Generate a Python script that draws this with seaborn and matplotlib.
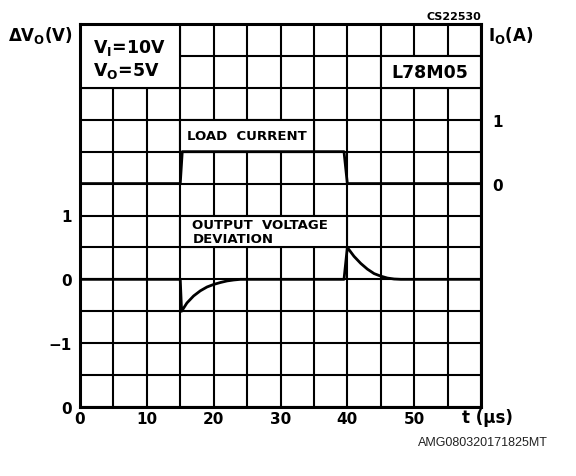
import numpy as np
import matplotlib
matplotlib.use("Agg")
import matplotlib.pyplot as plt
from matplotlib.patches import Rectangle
import seaborn as sns

# load current step (A) vs time (us)
t_load = [0, 15, 15.3, 39.5, 40, 60]
i_load = [0, 0, 0.5, 0.5, 0, 0]

# output voltage deviation (V) vs time (us)
t_dev = [0, 15, 15.2, 16, 17, 18, 19, 20, 21, 22, 23, 24,
         39.5, 40, 41, 42, 43, 44, 45, 46, 47, 48, 60]
v_dev = [0, 0, -0.5, -0.37, -0.26, -0.18, -0.12, -0.08, -0.05, -0.025, -0.01, 0,
         0, 0.5, 0.36, 0.25, 0.16, 0.09, 0.05, 0.02, 0.005, 0, 0]

x_ticks = [0, 5, 10, 15, 20, 25, 30, 35, 40, 45, 50, 55, 60]
x_labels = ['0', '', '10', '', '20', '', '30', '', '40', '', '50', '', '']
y_ticks = [-2, -1.5, -1, -0.5, 0, 0.5, 1, 1.5, 2, 2.5, 3, 3.5, 4]
y_labels = ['0', '', '\u22121', '', '0', '', '1', '', '', '', '', '', '']
io_ticks = [0, 1]
io_offset = 1.5  # Io = 0 sits 1.5 V above dVo = 0 on the chart

sns.set_style("white")
plt.rcParams['font.family'] = ['DejaVu Sans']
plt.rcParams['mathtext.default'] = 'bf'
plt.rcParams['text.color'] = 'black'

fig = plt.figure(figsize=(5.76, 4.77), dpi=100)
ax = fig.add_axes([80 / 576, 69 / 477, 401 / 576, 383 / 477])

grid_lw = 1.5
ax.set_xlim(0, 60)
ax.set_ylim(-2, 4)
ax.set_xticks(x_ticks)
ax.set_xticklabels(x_labels)
ax.set_yticks(y_ticks)
ax.set_yticklabels(y_labels)
ax.tick_params(length=0, labelsize=11, colors='black')
ax.tick_params(axis='x', pad=3)
ax.tick_params(axis='y', pad=6)
for lab in ax.get_xticklabels() + ax.get_yticklabels():
    lab.set_fontweight('bold')
ax.set_axisbelow(True)
ax.grid(True, color='black', lw=grid_lw)
for sp in ax.spines.values():
    sp.set_color('black')
    sp.set_linewidth(2.2)
    sp.set_visible(True)

# blank panels holding the labels
boxes = [(0, 3.0, 15, 1.0), (45, 3.0, 15, 0.5), (15, 2.0, 20, 0.5), (15, 0.5, 25, 0.5)]
for x0, y0, w, h in boxes:
    ax.add_patch(Rectangle((x0, y0), w, h, facecolor='white', edgecolor='black',
                           lw=grid_lw, zorder=1))

sns.lineplot(x=t_load, y=[v + io_offset for v in i_load], ax=ax, color='black',
             lw=2, sort=False, estimator=None, zorder=3)
sns.lineplot(x=t_dev, y=v_dev, ax=ax, color='black', lw=2, sort=False,
             estimator=None, zorder=3)

sec = ax.secondary_yaxis('right', functions=(lambda v: v - io_offset, lambda i: i + io_offset))
sec.set_yticks(io_ticks)
sec.set_yticklabels(['1' if v == 1 else '0' for v in io_ticks], fontweight='bold')
sec.tick_params(length=0, labelsize=11, pad=8, colors='black')
sec.spines['right'].set_visible(False)

ax.text(1.9, 3.64, r'V$_I$=10V', va='center', ha='left', fontsize=12.5, fontweight='bold')
ax.text(1.9, 3.28, r'V$_O$=5V', va='center', ha='left', fontsize=12.5, fontweight='bold')
ax.text(52.3, 3.25, 'L78M05', va='center', ha='center', fontsize=12.5, fontweight='bold')
ax.text(16.0, 2.25, 'LOAD  CURRENT', va='center', ha='left', fontsize=9.5, fontweight='bold')
ax.text(16.8, 0.75, 'OUTPUT  VOLTAGE\nDEVIATION', va='center', ha='left', fontsize=9.5,
        fontweight='bold', linespacing=1.1)

fig.text(8 / 576, 1 - 35 / 477, '\u0394V$_O$(V)', va='center', ha='left', fontsize=12, fontweight='bold')
fig.text(488 / 576, 1 - 35 / 477, 'I$_O$(A)', va='center', ha='left', fontsize=12, fontweight='bold')
fig.text(481 / 576, 1 - 17 / 477, 'CS22530', va='center', ha='right', fontsize=8, fontweight='bold')
fig.text(487 / 576, 1 - 418 / 477, 't (\u00b5s)', va='center', ha='center', fontsize=12, fontweight='bold')
fig.text(548 / 576, 1 - 443 / 477, 'AMG080320171825MT', va='center', ha='right', fontsize=9,
         color='#222222', family='Liberation Sans')

fig.savefig('out.png', dpi=100)
